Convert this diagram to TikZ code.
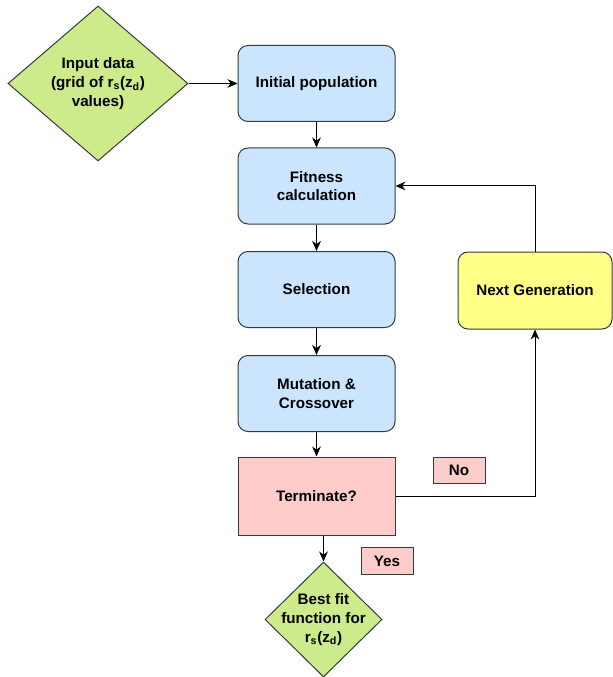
\documentclass[tikz,border=0pt]{standalone}
\usepackage{fontspec}
\setmainfont{Liberation Sans}
\usetikzlibrary{shapes.geometric,arrows.meta}
\definecolor{edgegray}{HTML}{36393D}
\definecolor{stepblue}{HTML}{CCE5FF}
\definecolor{datagreen}{HTML}{CDEB8B}
\definecolor{stoppink}{HTML}{FFCCCC}
\definecolor{genyellow}{HTML}{FFFF88}
\tikzset{
    txt/.style={align=center, font=\bfseries\fontsize{11.4}{14}\selectfont},
    stepbox/.style={txt, draw=edgegray, fill=stepblue, rounded corners=7.5pt,
      minimum width=117.75pt, minimum height=57pt, line width=0.75pt},
    stopbox/.style={txt, draw=edgegray, fill=stoppink,
      minimum width=117.75pt, minimum height=58.5pt, line width=0.75pt},
    genbox/.style={txt, draw=edgegray, fill=genyellow, rounded corners=7.5pt,
      minimum width=115.5pt, minimum height=57.75pt, line width=0.75pt},
    decision/.style={diamond, draw=edgegray, fill=datagreen, inner sep=0pt, line width=0.75pt},
    tag/.style={txt, draw=edgegray, fill=stoppink, minimum width=39pt, minimum height=20pt,
      inner sep=0pt, line width=0.75pt},
    arr/.style={-{Stealth[length=7.5pt,width=6.5pt]}, line width=0.75pt},
  }
\begin{document}
\begin{tikzpicture}[x=0.75pt,y=-0.75pt]
  \useasboundingbox (0,0) rectangle (612,677);
  %input and result
  \node[decision, minimum width=135pt, minimum height=116.25pt,
    label={[txt]center:Input data\\(grid of r\textsubscript{s}(z\textsubscript{d})\\values)}] (input) at (98,83.5) {};
  \node[decision, minimum width=87.75pt, minimum height=86.25pt,
    label={[txt]center:Best fit\\function for\\r\textsubscript{s}(z\textsubscript{d})}] (best) at (323.5,619.5) {};
  %main loop
  \node[stepbox] (init) at (316.5,83.5) {Initial population};
  \node[stepbox] (fit) at (316.5,186) {Fitness\\calculation};
  \node[stepbox] (sel) at (316.5,289.5) {Selection};
  \node[stepbox] (mut) at (316.5,393.5) {Mutation \&\\Crossover};
  \node[stopbox] (term) at (316.5,496) {Terminate?};
  \node[genbox] (next) at (535,290.5) {Next Generation};
  \node[tag] (no) at (459,470.5) {No};
  \node[tag] (yes) at (387,561) {Yes};

  \draw[arr] (input.east) -- (init.west);
  \draw[arr] (init.south) -- (fit.north);
  \draw[arr] (fit.south) -- (sel.north);
  \draw[arr] (sel.south) -- (mut.north);
  \draw[arr] (mut.south) -- (term.north);
  \draw[arr] (best.north |- term.south) -- (best.north);
  \draw[arr] (term.east) -| (next.south);
  \draw[arr] (next.north) |- (fit.east);
\end{tikzpicture}
\end{document}
